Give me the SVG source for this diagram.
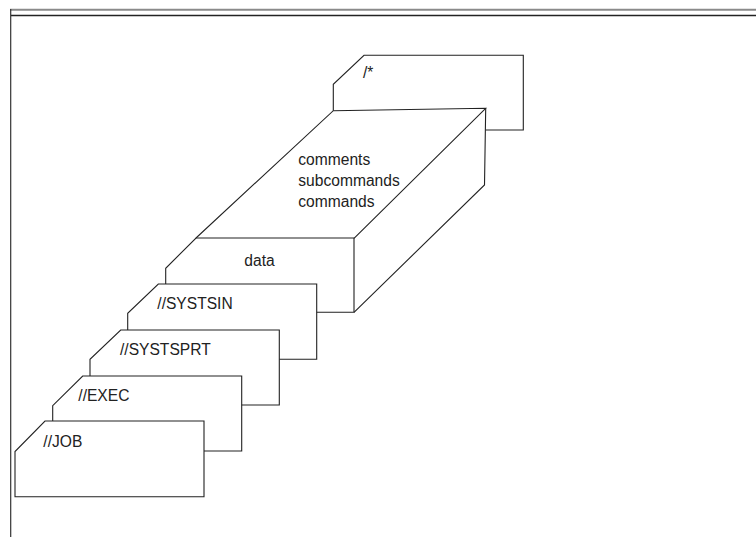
<svg xmlns="http://www.w3.org/2000/svg" width="756" height="537" viewBox="0 0 756 537">
<style>
.ln{fill:none;stroke:#222;stroke-width:1.1;stroke-linejoin:miter}
.fr{fill:none;stroke:#333;stroke-width:1.2}
text{font-family:"Liberation Sans",Arial,sans-serif;font-size:15.6px;fill:#222}
</style>
<rect x="0" y="0" width="756" height="537" fill="#fff"/>
<g id="frame">
<line x1="10" y1="9.7" x2="756" y2="9.7" stroke="#8a8a8a" stroke-width="2"/>
<line x1="11" y1="15.5" x2="756" y2="15.5" stroke="#222" stroke-width="1.5"/>
<line x1="10.7" y1="9" x2="10.7" y2="537" class="fr"/>
</g>
<g id="connectors">
<path class="ln" d="M196,238 L333.3,110.7 L485.7,108.3 L354,238.3"/>
<path class="ln" d="M485.7,108.3 L484.5,185 L354,312.3"/>
</g>
<g id="comment-box">
<path class="ln" d="M485.7,130 H523.3 V55.3 H364 L333.3,84.3 V110.7"/>
<text x="363" y="77.5">/*</text>
</g>
<g id="commands-block">
<text x="298.3" y="164.5">comments</text>
<text x="298.3" y="185.8">subcommands</text>
<text x="298.3" y="207">commands</text>
</g>
<g id="data">
<path class="ln" d="M316.7,312.3 H354 V238 H196 L165.7,268.3 V284"/>
<text x="244.3" y="266">data</text>
</g>
<g id="systsin">
<path class="ln" d="M279.3,359.3 H316.7 V284 H158.3 L127.7,313.3 V330"/>
<text x="157.3" y="309">//SYSTSIN</text>
</g>
<g id="systsprt">
<path class="ln" d="M241.7,405 H279.3 V330 H120.7 L90,359.3 V376"/>
<text x="120" y="355">//SYSTSPRT</text>
</g>
<g id="exec">
<path class="ln" d="M204,451 H241.7 V376 H82.7 L52.7,405.7 V421"/>
<text x="78.3" y="400.7">//EXEC</text>
</g>
<g id="job">
<path class="ln" d="M45,421 H204 V496.7 H15 V451.5 Z"/>
<text x="43.3" y="446.7">//JOB</text>
</g>
</svg>
